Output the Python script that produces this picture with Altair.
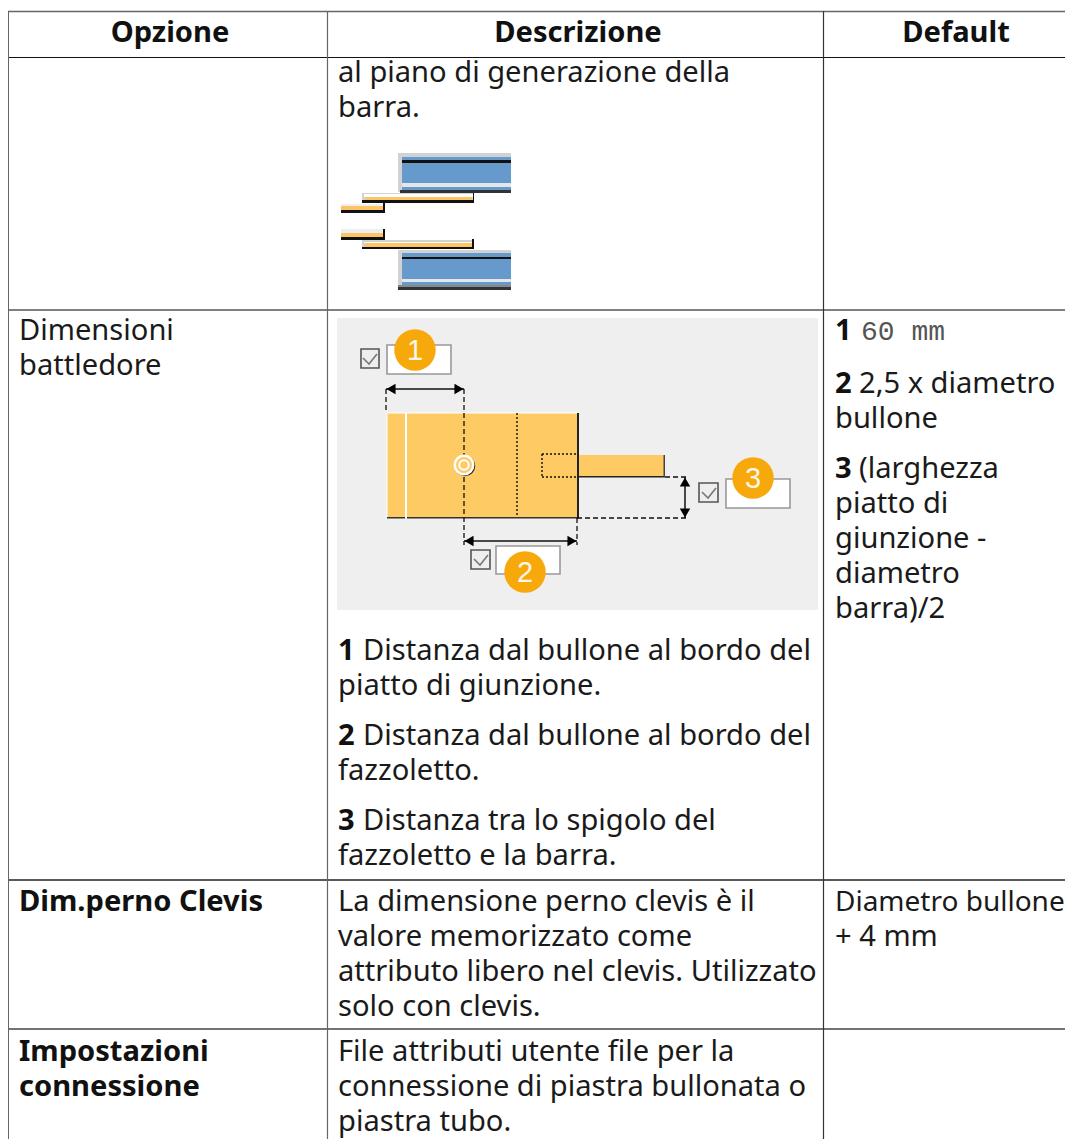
import altair as alt
import pandas as pd

# --- table text: (left, baseline, text)
regular_text = [
    (338, 82, "al piano di generazione della"), (338, 117, "barra."),
    (19, 340, "Dimensioni"), (19, 375, "battledore"),
    (859, 393, "2,5 x diametro"), (835, 428, "bullone"),
    (859, 478, "(larghezza"), (835, 513, "piatto di"), (835, 548, "giunzione -"),
    (835, 583, "diametro"), (835, 618, "barra)/2"),
    (363, 660, "Distanza dal bullone al bordo del"), (338, 695, "piatto di giunzione."),
    (363, 745, "Distanza dal bullone al bordo del"), (338, 780, "fazzoletto."),
    (363, 830, "Distanza tra lo spigolo del"), (338, 865, "fazzoletto e la barra."),
    (338, 911, "La dimensione perno clevis è il"), (338, 946, "valore memorizzato come"),
    (338, 981, "attributo libero nel clevis. Utilizzato"), (338, 1016, "solo con clevis."),
    (835, 946, "+ 4 mm"),
    (338, 1061, "File attributi utente file per la"),
    (338, 1096, "connessione di piastra bullonata o"), (338, 1131, "piastra tubo."),
]
narrow_text = [(835, 911, "Diametro bullone")]
bold_text = [
    (835, 340, "1"), (835, 393, "2"), (835, 478, "3"),
    (338, 660, "1"), (338, 745, "2"), (338, 830, "3"),
    (19, 911, "Dim.perno Clevis"), (19, 1061, "Impostazioni"), (19, 1096, "connessione"),
]
header_text = [(170, 42, "Opzione"), (578, 42, "Descrizione"), (956, 42, "Default")]
mono_text = [(861, 340, "60 mm")]

# --- filled boxes: x, x2, y, y2, fill, stroke
BLUE, GOLD, BLACK, WHITE, GRAY = "#6699cc", "#fdca63", "#111111", "#ffffff", "#d2d2d2"
boxes = [
    (337, 818, 318, 610, "#efefef", None),
    # upper beam
    (398, 511, 153, 157, GRAY, None), (398, 402, 153, 192, GRAY, None),
    (402, 511, 157, 190, BLUE, None), (402, 511, 160, 163, BLACK, None),
    (402, 511, 183, 187, "#e6e6e6", None), (400, 511, 190, 193, "#333333", None),
    # upper plates
    (362, 474, 193, 203, GRAY, None), (364, 473, 194, 197, WHITE, None),
    (365, 472, 197, 200, "#fbc565", None), (362, 474, 200, 203, BLACK, None), (473, 474, 193, 203, BLACK, None),
    (341, 385, 204, 213, "#eeeeee", None), (341, 383, 206, 210, "#fbc565", None),
    (341, 385, 210, 213, BLACK, None), (383, 385, 203, 213, BLACK, None),
    # lower plates
    (341, 385, 229, 240, "#eeeeee", None), (341, 383, 233, 237, "#fbc565", None),
    (341, 385, 237, 240, BLACK, None), (383, 385, 229, 240, BLACK, None),
    (362, 474, 240, 249, GRAY, None), (364, 472, 242, 243, WHITE, None), (365, 472, 243, 247, "#fbc565", None),
    (362, 474, 247, 249, BLACK, None), (472, 474, 239, 249, BLACK, None),
    # lower beam
    (398, 511, 250, 253, GRAY, None), (398, 402, 250, 285, GRAY, None),
    (402, 511, 253, 285, BLUE, None), (402, 511, 257, 259, BLACK, None),
    (402, 511, 279, 282, "#e6e6e6", None), (398, 511, 285, 287, "#888888", None), (398, 511, 287, 290, "#333333", None),
    # battledore plate
    (387, 577, 413, 518, GOLD, None), (578, 665, 455, 477, GOLD, None),
    (387, 577, 412.5, 413.5, WHITE, None), (386.5, 387.5, 413, 517, WHITE, None),
    (405, 407, 413, 518, WHITE, None),
    (387, 405, 517, 518.5, "#333333", None), (407, 579, 517, 518.5, "#333333", None),
    (577, 579, 413, 518, "#222222", None), (578, 665, 476, 477.5, "#222222", None),
    (663.5, 665, 455, 477, "#444444", None),
    # input boxes
    (387, 451, 345, 374, WHITE, "#999999"), (496, 560, 546, 574, WHITE, "#999999"), (726, 790, 479, 508, WHITE, "#999999"),
    # check boxes
    (361, 379, 349, 368, "#eeeeee", "#555555"), (471, 490, 550, 569, "#eeeeee", "#555555"), (699, 718, 483, 502, "#eeeeee", "#555555"),
]

# --- table rules: x, x2, y, y2, colour, width
table_rules = [
    (8, 1073, 11.5, 11.5, "#666666", 1.5), (8, 1073, 57.5, 57.5, "#111111", 1.2),
    (8, 1073, 310, 310, "#555555", 1.5), (8, 1073, 880, 880, "#222222", 1.5), (8, 1073, 1029, 1029, "#444444", 1.5),
    (8.5, 8.5, 11, 1139, "#666666", 1), (327.5, 327.5, 11, 1139, "#666666", 1.2), (823.5, 823.5, 11, 1139, "#333333", 1.2),
]
arrow_rules = [
    (386, 464, 389, 389), (464, 577, 541, 541), (685, 685, 477, 518),
]
dashed_rules = [
    (386, 386, 389, 412), (464, 464, 389, 545), (577, 577, 518, 545),
    (665, 688, 477, 477), (577, 688, 518, 518),
]
dotted_rules = [
    (517, 517, 413, 517), (542, 577, 454, 454), (542, 577, 477, 477), (542, 542, 454, 477),
]
ticks = [
    [(363, 358), (369, 364), (377, 354)],
    [(474, 559), (480, 565), (488, 555)],
    [(702, 492), (708, 498), (716, 488)],
]
arrow_heads = [
    (391, 389, "triangle-left"), (459, 389, "triangle-right"),
    (469, 541, "triangle-left"), (572, 541, "triangle-right"),
    (685, 482, "triangle-up"), (685, 513, "triangle-down"),
]
badges = [(415, 350, "1"), (525, 572, "2"), (753, 478, "3")]

W, H = 1057, 1131
X = alt.Scale(domain=[8, 8 + W], nice=False, zero=False)
Y = alt.Scale(domain=[8 + H, 8], nice=False, zero=False)


def ex(f="x"):
    return alt.X(f"{f}:Q", scale=X, axis=None)


def ey(f="y"):
    return alt.Y(f"{f}:Q", scale=Y, axis=None)


def text_layer(rows, **mark):
    d = pd.DataFrame(rows, columns=["x", "y", "t"])
    return alt.Chart(d).mark_text(baseline="alphabetic", **mark).encode(x=ex(), y=ey(), text="t:N")


def rule_layer(rows, **mark):
    d = pd.DataFrame(rows, columns=["x", "x2", "y", "y2"])
    return alt.Chart(d).mark_rule(**mark).encode(x=ex(), x2="x2:Q", y=ey(), y2="y2:Q")


box_df = pd.DataFrame(boxes, columns=["x", "x2", "y", "y2", "f", "s"])
box_df["s"] = box_df["s"].fillna("transparent")
box_layer = alt.Chart(box_df).mark_rect(strokeWidth=1.6).encode(
    x=ex(), x2="x2:Q", y=ey(), y2="y2:Q",
    fill=alt.Fill("f:N", scale=None), stroke=alt.Stroke("s:N", scale=None),
)

rule_df = pd.DataFrame(table_rules, columns=["x", "x2", "y", "y2", "c", "w"])
rule_df["x2"] = rule_df["x2"].clip(upper=8 + W)
table_layer = alt.Chart(rule_df).mark_rule().encode(
    x=ex(), x2="x2:Q", y=ey(), y2="y2:Q",
    color=alt.Color("c:N", scale=None), strokeWidth=alt.StrokeWidth("w:Q", scale=None),
)

tick_rows = [dict(k=i, o=j, x=p[0], y=p[1]) for i, t in enumerate(ticks) for j, p in enumerate(t)]
tick_layer = alt.Chart(pd.DataFrame(tick_rows)).mark_line(color="#777777", strokeWidth=1.6).encode(
    x=ex(), y=ey(), detail="k:N", order="o:Q")

heads = alt.Chart(pd.DataFrame(arrow_heads, columns=["x", "y", "s"])).mark_point(
    filled=True, color="#000000", size=110, opacity=1).encode(
    x=ex(), y=ey(), shape=alt.Shape("s:N", scale=None))

bx, by = 464, 465
bolt = [
    alt.Chart(pd.DataFrame([dict(x=bx + 1, y=by + 1)])).mark_point(
        shape="circle", size=340, stroke="#222222", strokeWidth=2, opacity=1).encode(x=ex(), y=ey()),
    alt.Chart(pd.DataFrame([dict(x=bx, y=by)])).mark_point(
        shape="circle", size=340, filled=True, color=GOLD, stroke="#ffffff", strokeWidth=2.5, opacity=1).encode(x=ex(), y=ey()),
    alt.Chart(pd.DataFrame([dict(x=bx, y=by)])).mark_point(
        shape="circle", size=90, stroke="#ffffff", strokeWidth=2, opacity=1).encode(x=ex(), y=ey()),
]

badge_df = pd.DataFrame(badges, columns=["x", "y", "t"])
badge_circle = alt.Chart(badge_df).mark_point(
    shape="circle", filled=True, color="#f7a90c", size=1720, opacity=1).encode(x=ex(), y=ey())
badge_text = alt.Chart(badge_df).mark_text(
    font="Liberation Sans", fontSize=29, color="#fff7e6", baseline="middle", align="center", dy=1
).encode(x=ex(), y=ey(), text="t:N")

FONT = "Noto Sans"
SIZE = 29.1
chart = alt.layer(
    box_layer,
    rule_layer(dashed_rules, color="#111111", strokeWidth=1.3, strokeDash=[5, 3]),
    rule_layer(dotted_rules, color="#111111", strokeWidth=1.4, strokeDash=[2, 2]),
    *bolt,
    rule_layer(arrow_rules, color="#111111", strokeWidth=1.5),
    heads,
    tick_layer,
    badge_circle,
    badge_text,
    table_layer,
    text_layer(regular_text, font=FONT, fontSize=SIZE, color="#1a1a1a", align="left"),
    text_layer(narrow_text, font=FONT, fontSize=28, color="#1a1a1a", align="left"),
    text_layer(bold_text, font=FONT, fontSize=SIZE, fontWeight="bold", color="#111111", align="left"),
    text_layer(header_text, font=FONT, fontSize=SIZE, fontWeight="bold", color="#111111", align="center"),
    text_layer(mono_text, font="Liberation Mono", fontSize=28, color="#555555", align="left"),
).properties(
    width=W, height=H, padding=0, autosize=alt.AutoSizeParams(type="none"),
).configure_view(stroke=None)

chart.save("out.html", embed_options={"renderer": "svg", "actions": False})
